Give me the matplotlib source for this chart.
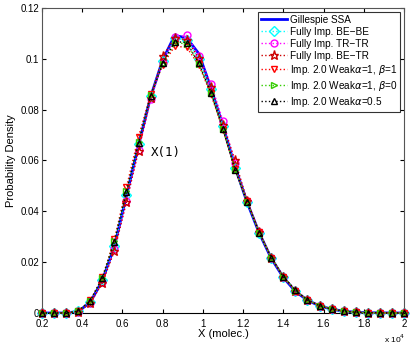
import matplotlib
matplotlib.use("Agg")
import matplotlib.pyplot as plt
import numpy as np

# x in units of 1e4 molecules
x = [0.20, 0.26, 0.32, 0.38, 0.44, 0.50, 0.56, 0.62, 0.68, 0.74, 0.80,
     0.86, 0.92, 0.98, 1.04, 1.10, 1.16, 1.22, 1.28, 1.34, 1.40, 1.46,
     1.52, 1.58, 1.64, 1.70, 1.76, 1.82, 1.88, 1.94, 2.00]

ssa = [0, 0, 0, 0.0006, 0.0042, 0.0128, 0.0262, 0.0462, 0.0660, 0.0850, 0.0995,
       0.1092, 0.1082, 0.1020, 0.0885, 0.0735, 0.0575, 0.0435, 0.0315, 0.0215, 0.0140, 0.0085,
       0.0050, 0.0028, 0.0015, 0.0007, 0.0003, 0.0001, 0.00005, 0, 0]

be_be = [0, 0, 0, 0.0006, 0.0045, 0.0130, 0.0265, 0.0465, 0.0665, 0.0852, 0.0990,
         0.1080, 0.1075, 0.1000, 0.0880, 0.0735, 0.0570, 0.0437, 0.0316, 0.0217, 0.0142, 0.0088,
         0.0050, 0.0029, 0.0015, 0.0007, 0.0003, 0.0001, 0.00005, 0, 0]

tr_tr = [0, 0, 0, 0.0005, 0.0040, 0.0122, 0.0250, 0.0440, 0.0640, 0.0840, 0.0985,
         0.1085, 0.1092, 0.1010, 0.0902, 0.0756, 0.0590, 0.0440, 0.0318, 0.0218, 0.0143, 0.0088,
         0.0051, 0.0029, 0.0015, 0.0007, 0.0003, 0.0001, 0.00005, 0, 0]

be_tr = [0, 0, 0, 0.0005, 0.0038, 0.0118, 0.0244, 0.0437, 0.0639, 0.0845, 0.1010,
         0.1082, 0.1075, 0.1002, 0.0890, 0.0740, 0.0600, 0.0442, 0.0318, 0.0218, 0.0143, 0.0088,
         0.0051, 0.0029, 0.0015, 0.0007, 0.0003, 0.0001, 0.00005, 0, 0]

weak_11 = [0, 0, 0, 0.0007, 0.0050, 0.0140, 0.0290, 0.0495, 0.0694, 0.0860, 0.0975,
           0.1050, 0.1045, 0.0975, 0.0860, 0.0720, 0.0565, 0.0440, 0.0318, 0.0218, 0.0143, 0.0088,
           0.0051, 0.0029, 0.0015, 0.0007, 0.0003, 0.0001, 0.00005, 0, 0]

weak_10 = [0, 0, 0, 0.0007, 0.0048, 0.0138, 0.0282, 0.0480, 0.0672, 0.0856, 0.0980,
           0.1062, 0.1060, 0.0980, 0.0865, 0.0722, 0.0564, 0.0438, 0.0316, 0.0218, 0.0143, 0.0088,
           0.0051, 0.0029, 0.0015, 0.0007, 0.0003, 0.0001, 0.00005, 0, 0]

weak_05 = [0, 0, 0, 0.0007, 0.0048, 0.0137, 0.0280, 0.0477, 0.0670, 0.0854, 0.0982,
           0.1068, 0.1064, 0.0982, 0.0867, 0.0723, 0.0563, 0.0438, 0.0316, 0.0218, 0.0143, 0.0090,
           0.0051, 0.0029, 0.0015, 0.0007, 0.0003, 0.0001, 0.00005, 0, 0]

plt.rcParams['font.family'] = ['Liberation Sans', 'DejaVu Sans']
plt.rcParams['mathtext.fontset'] = 'dejavusans'

fig = plt.figure(figsize=(4.15, 3.46), dpi=100)
ax = fig.add_axes([0.1012, 0.0954, 0.8723, 0.8815])

ax.plot(x, ssa, '-', color='#0000ff', lw=2, label='Gillespie SSA', zorder=2)
series = [
    (be_be, 'D', '#00ffff', 'Fully Imp. BE\u2212BE'),
    (tr_tr, 'o', '#ff00ff', 'Fully Imp. TR\u2212TR'),
    (be_tr, '*', '#cc0000', 'Fully Imp. BE\u2212TR'),
    (weak_11, 'v', '#ff0000', r'Imp. 2.0 Weak$\alpha$=1, $\beta$=1'),
    (weak_10, '>', '#33cc00', r'Imp. 2.0 Weak$\alpha$=1, $\beta$=0'),
    (weak_05, '^', '#000000', r'Imp. 2.0 Weak$\alpha$=0.5'),
]
for ys, m, c, lab in series:
    ax.plot(x, ys, ':', color=c, lw=1, marker=m, markersize=5 if m != '*' else 6.5,
            markerfacecolor='none', markeredgecolor=c, markeredgewidth=1, label=lab,
            zorder=3, clip_on=False)

ax.text(0.74, 0.0633, 'X(1)', family='DejaVu Sans Mono', fontsize=9, va='center')

ax.set_xlim(0.2, 2.0)
ax.set_ylim(0, 0.12)
ax.set_xticks([0.2, 0.4, 0.6, 0.8, 1.0, 1.2, 1.4, 1.6, 1.8, 2.0])
ax.set_xticklabels(['0.2', '0.4', '0.6', '0.8', '1', '1.2', '1.4', '1.6', '1.8', '2'])
ax.set_yticks([0, 0.02, 0.04, 0.06, 0.08, 0.1, 0.12])
ax.set_yticklabels(['0', '0.02', '0.04', '0.06', '0.08', '0.1', '0.12'])
ax.tick_params(direction='in', labelsize=7, length=3, top=True, right=True, pad=2)
ax.tick_params(axis='x', pad=4.5)
for s in ax.spines.values():
    s.set_color('#555555')
ax.spines['bottom'].set_color('black')
ax.set_xlabel('X (molec.)', fontsize=8, labelpad=0)
ax.set_ylabel('Probability Density', fontsize=8, labelpad=3)
fig.text(0.925, 0.008, r'x 10$^4$', fontsize=6)

leg = ax.legend(loc='upper right', fontsize=7.2, frameon=True, fancybox=False,
                edgecolor='black', handlelength=2.6, borderpad=0.3, labelspacing=0.2,
                handletextpad=0.3, borderaxespad=0.4)
leg.get_frame().set_linewidth(0.8)

fig.savefig('out.png', dpi=100)
